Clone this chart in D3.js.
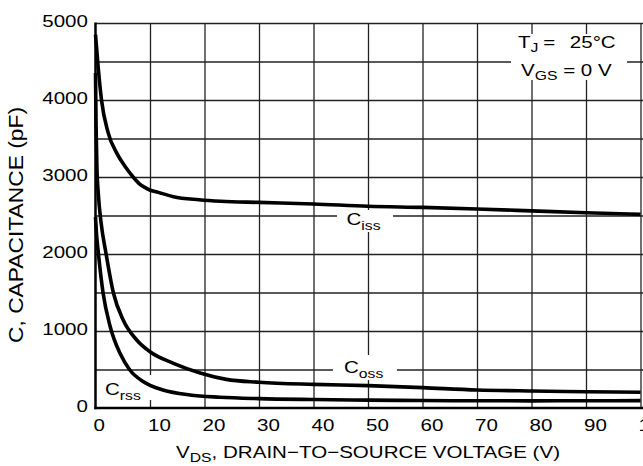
<!DOCTYPE html>
<html>
<head>
<meta charset="utf-8">
<script src="https://cdn.jsdelivr.net/npm/d3@7"></script>
<style>
  body { margin: 0; background: #fff; }
  svg { display: block; font-family: "Liberation Sans", Arial, Helvetica, sans-serif; }
</style>
</head>
<body>
<div id="chart"></div>
<script>
// values (V, pF)
var cissData = [[0,4850],[0.5,4420],[1.1,4000],[2.3,3580],[3.9,3310],[5.5,3130],[6.9,3000],[8,2915],
                [9.4,2850],[12,2790],[14.3,2745],[19,2705],[23,2685],[30,2670],[40,2650],[50,2620],
                [60,2605],[70,2585],[80,2560],[90,2535],[100,2515]];
var cossData = [[0,4350],[0.1,3700],[0.25,3150],[0.55,2750],[1,2420],[1.9,2020],[3.3,1490],[5.1,1140],
                [7.6,880],[10,730],[14.3,580],[19.2,455],[24,372],[30,335],[40,307],[50,290],
                [60,264],[70,234],[80,221],[90,212],[100,204]];
var crssData = [[0,2480],[0.2,2250],[0.5,2030],[1.4,1490],[2.7,1056],[4.5,710],[6.3,494],[8.8,342],
                [12.4,234],[17.3,169],[22.8,140],[30,122],[40,110],[50,102],[60,97],[70,94],
                [80,93],[90,94],[100,96]];
var xTicks = [0,10,20,30,40,50,60,70,80,90,100];
var yTicks = [0,1000,2000,3000,4000,5000];
var yGrid = [500,1000,1500,2000,2500,3000,3500,4000,4500,5000];

var W = 643, H = 466, SX = 1.21;   // text in the picture is stretched sideways

var svg = d3.select("#chart").append("svg").attr("width", W).attr("height", H);

var x = d3.scaleLinear().domain([0,100]).range([95.5,640.5]);
var y = d3.scaleLinear().domain([0,5000]).range([408,23]);

// grid
svg.append("g")
   .attr("transform", "translate(0," + y(0) + ")")
   .call(d3.axisBottom(x).tickValues(xTicks.slice(1)).tickSize(-(y(0)-y(5000))).tickFormat(""))
   .call(function(g){ g.select(".domain").remove(); })
   .selectAll("line").attr("stroke", "#222").attr("stroke-width", 1.3);
svg.append("g")
   .attr("transform", "translate(" + x(0) + ",0)")
   .call(d3.axisLeft(y).tickValues(yGrid).tickSize(-(W-x(0))).tickFormat(""))
   .call(function(g){ g.select(".domain").remove(); })
   .selectAll("line").attr("stroke", "#222").attr("stroke-width", 1.3);

// white patches behind the labels
var patches = [[511,34,116,46],[337,210,56,22],[333,355,64,25],[100,375,52,25]];
svg.selectAll("rect.patch").data(patches).enter().append("rect")
   .attr("class","patch")
   .attr("x", function(d){ return d[0]; }).attr("y", function(d){ return d[1]; })
   .attr("width", function(d){ return d[2]; }).attr("height", function(d){ return d[3]; })
   .attr("fill", "#fff");

// axes lines
svg.append("line").attr("x1", x(0)).attr("x2", x(0)).attr("y1", y(5000)-0.6).attr("y2", y(0)+1.2)
   .attr("stroke", "#000").attr("stroke-width", 2.5);
svg.append("line").attr("x1", x(0)-1.2).attr("x2", W).attr("y1", y(0)).attr("y2", y(0))
   .attr("stroke", "#000").attr("stroke-width", 2.5);

// curves
var line = d3.line().x(function(d){ return x(d[0]); }).y(function(d){ return y(d[1]); })
             .curve(d3.curveMonotoneX);
[cissData, cossData, crssData].forEach(function(s){
  svg.append("path").datum(s).attr("d", line)
     .attr("fill", "none").attr("stroke", "#000").attr("stroke-width", 3.6)
     .attr("stroke-linejoin", "round");
});

// tick labels
var ya = svg.append("g").attr("transform", "translate(" + x(0) + ",0)")
   .call(d3.axisLeft(y).tickValues(yTicks).tickSize(0).tickFormat(d3.format("d")));
ya.select(".domain").remove();
ya.selectAll("text").attr("x", null).attr("dy", null)
  .attr("transform", "translate(-7.5,3.5) scale(" + SX + ",1)")
  .attr("text-anchor", "end").attr("font-size", 17).attr("font-family", null).attr("fill", "#000");

var xa = svg.append("g").attr("transform", "translate(0," + y(0) + ")")
   .call(d3.axisBottom(x).tickValues(xTicks).tickSize(0).tickFormat(d3.format("d")));
xa.select(".domain").remove();
xa.selectAll("text").attr("y", null).attr("dy", null)
  .attr("transform", "translate(-2.5,23) scale(" + SX + ",1)")
  .attr("text-anchor", "start").attr("font-size", 17).attr("font-family", null).attr("fill", "#000");

// text with subscripts
function label(px, py, anchor, parts, size){
  var t = svg.append("text")
     .attr("transform", "translate(" + px + "," + py + ") scale(" + SX + ",1)")
     .attr("text-anchor", anchor).attr("font-size", size || 17);
  parts.forEach(function(p){
    var s = t.append("tspan").text(p[0]);
    if (p[1]) s.attr("dy", p[1]);
    if (p[2]) s.attr("font-size", p[2]);
    if (p[3]) s.attr("dx", p[3]);
  });
  return t;
}

label(368, 458, "middle", [["V"],["DS",4,13],[", DRAIN\u2212TO\u2212SOURCE VOLTAGE (V)",-4]]);
label(518, 48, "start", [["T"],["J",4,13],["=",-4,null,4],["25\u00b0C",0,null,12]]);
label(521, 76, "start", [["V"],["GS",4,13],[" = 0 V",-4]]);
label(346.5, 225, "start", [["C"],["iss",5,13]]);
label(344, 373, "start", [["C"],["oss",5,13]]);
label(105, 395, "start", [["C"],["rss",5,13]]);

// y title
svg.append("text")
   .attr("transform", "translate(23,225) scale(" + SX + ",1) rotate(-90)")
   .attr("text-anchor", "middle").attr("font-size", 17)
   .attr("textLength", 236).attr("lengthAdjust", "spacingAndGlyphs")
   .text("C, CAPACITANCE (pF)");
</script>
</body>
</html>
